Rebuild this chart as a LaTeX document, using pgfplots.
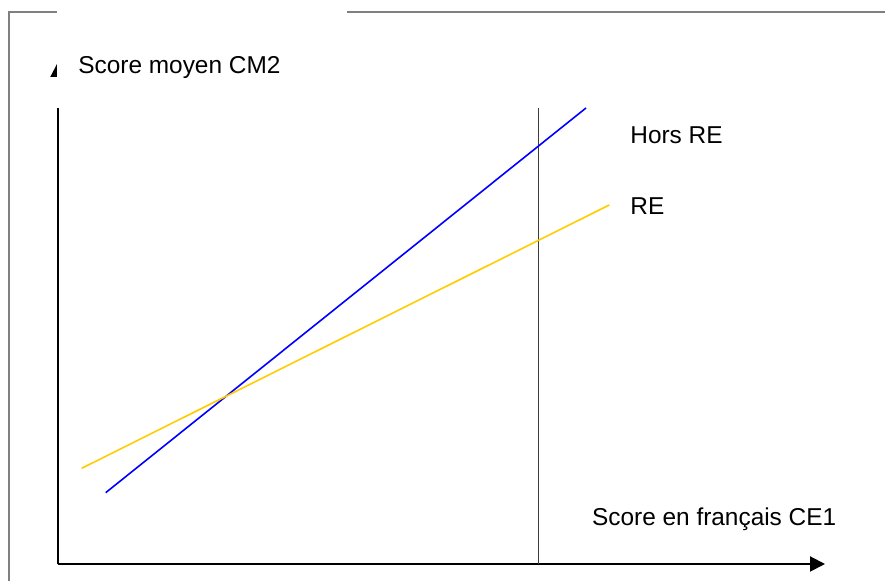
\documentclass[border=0pt]{standalone}
\usepackage{pgfplots}
\pgfplotsset{compat=1.18}
\usepackage{fontspec}
\setmainfont{Liberation Sans}
\usetikzlibrary{arrows.meta}
\definecolor{reyellow}{RGB}{255,204,0}
\definecolor{framegray}{RGB}{128,128,128}
\definecolor{vgray}{RGB}{60,60,60}
\begin{document}
\begin{tikzpicture}
\begin{axis}[
  scale only axis,
  width=383.5pt, height=251pt,
  xmin=58, xmax=825, ymin=17, ymax=519,
  axis lines=left,
  ticks=none,
  clip=false,
  axis line style={line width=1pt, -{Triangle[length=7.5pt,width=7.5pt]}},
]
\coordinate (P00) at (axis cs:0,0);
\coordinate (P11) at (axis cs:885,581);
\coordinate (F0) at (axis cs:9,0);
\coordinate (F1) at (axis cs:9,569);
\coordinate (F2) at (axis cs:885,569);
\coordinate (W0) at (axis cs:57,473);
\coordinate (W1) at (axis cs:347,570);
\coordinate (TT) at (axis cs:78,507);
\addplot[vgray, line width=0.5pt] coordinates {(538,17) (538,473)};
\addplot[blue, line width=0.8pt] coordinates {(105.7,88.3) (586,473)};
\addplot[reyellow, line width=0.8pt] coordinates {(81.7,112.7) (609.3,376)};
\node[anchor=base west, inner sep=0pt, font=\fontsize{12.2pt}{14pt}\selectfont] at (axis cs:630,437.7) {Hors RE};
\node[anchor=base west, inner sep=0pt, font=\fontsize{12.2pt}{14pt}\selectfont] at (axis cs:630,366) {RE};
\node[anchor=base west, inner sep=0pt, font=\fontsize{12.2pt}{14pt}\selectfont] at (axis cs:591.7,55.3) {Score en français CE1};
\end{axis}
\draw[framegray, line width=0.75pt] (F0) -- (F1) -- (F2);
\fill[white] (W0) rectangle (W1);
\node[anchor=base west, inner sep=0pt, font=\fontsize{12.2pt}{14pt}\selectfont] at (TT) {Score moyen CM2};
\pgfresetboundingbox
\path[use as bounding box] (P00) rectangle (P11);
\end{tikzpicture}
\end{document}
